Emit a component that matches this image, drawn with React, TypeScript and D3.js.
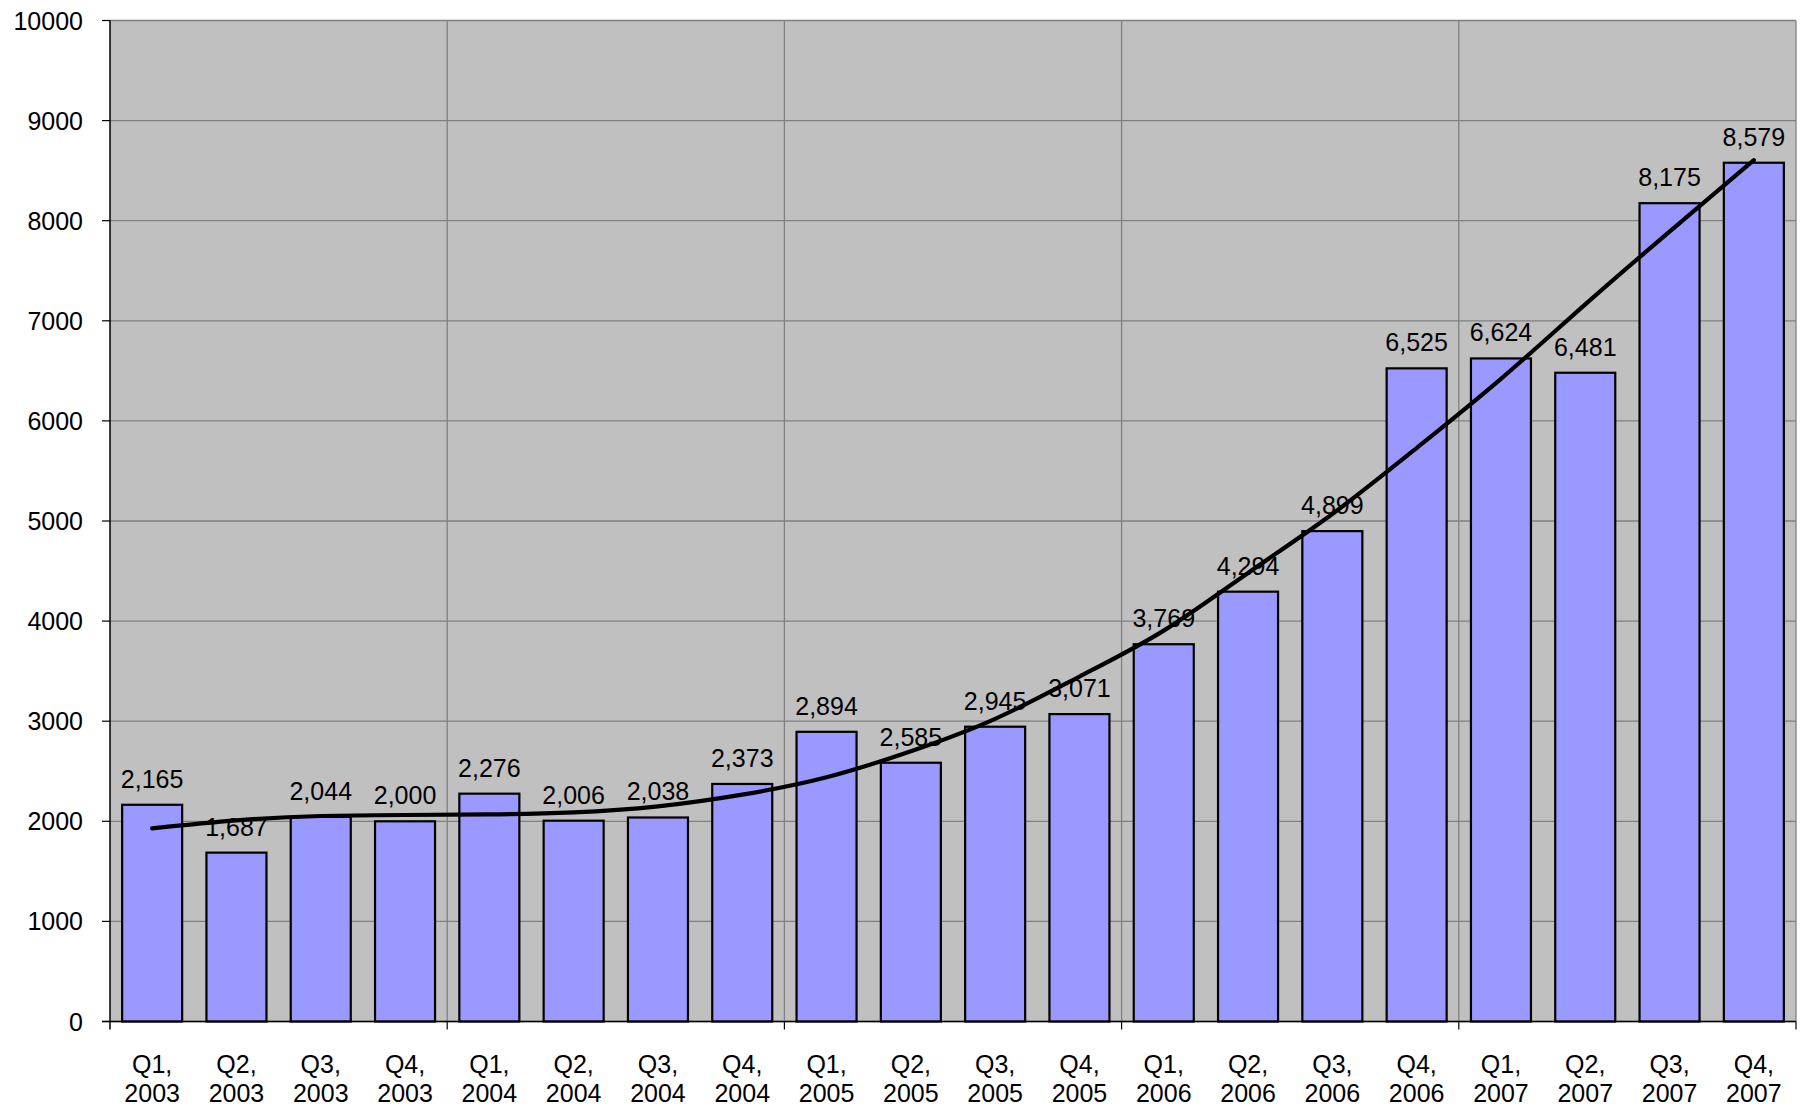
import React from "react";
import * as d3 from "d3";

const quarters = ["Q1", "Q2", "Q3", "Q4", "Q1", "Q2", "Q3", "Q4", "Q1", "Q2", "Q3", "Q4", "Q1", "Q2", "Q3", "Q4", "Q1", "Q2", "Q3", "Q4"];
const years = ["2003", "2003", "2003", "2003", "2004", "2004", "2004", "2004", "2005", "2005", "2005", "2005", "2006", "2006", "2006", "2006", "2007", "2007", "2007", "2007"];
const values = [2165, 1687, 2044, 2000, 2276, 2006, 2038, 2373, 2894, 2585, 2945, 3071, 3769, 4294, 4899, 6525, 6624, 6481, 8175, 8579];
const trendValues = [1930, 2010, 2053, 2063, 2069, 2089, 2149, 2266, 2440, 2700, 3024, 3446, 3905, 4481, 5070, 5729, 6420, 7164, 7891, 8605];
const yTicks = [0, 1000, 2000, 3000, 4000, 5000, 6000, 7000, 8000, 9000, 10000];

const W = 1803;
const H = 1107;
const left = 110;
const right = 1796;
const top = 20.5;
const bottom = 1021.5;
const FONT = "'Liberation Sans', Arial, sans-serif";

export default function App() {
  const ids = values.map((_, i) => String(i));
  const x = d3.scaleBand<string>().domain(ids).range([left, right]).paddingInner(0.288).paddingOuter(0.144);
  const y = d3.scaleLinear().domain([0, 10000]).range([bottom, top]);
  const step = x.step();
  const fmt = d3.format(",");
  const line = d3
    .line<number>()
    .x((_, i) => (x(String(i)) as number) + x.bandwidth() / 2)
    .y((d) => y(d))
    .curve(d3.curveNatural);

  const vGrid = [4, 8, 12, 16].map((i) => left + (x.paddingOuter() * 0 + i) * step);

  return (
    <div style={{ position: "absolute", left: 0, top: 0, width: W, height: H, background: "#fff" }}>
      <svg width={W} height={H} style={{ display: "block" }} fontFamily={FONT}>
        <rect x={left} y={top} width={right - left} height={bottom - top} fill="#c0c0c0" />
        {yTicks.map((t) => (
          <line key={"hg" + t} x1={left} x2={right} y1={y(t)} y2={y(t)} stroke="#808080" strokeWidth={1.3} />
        ))}
        {vGrid.map((gx, i) => (
          <line key={"vg" + i} x1={gx} x2={gx} y1={top} y2={bottom} stroke="#808080" strokeWidth={1.3} />
        ))}
        <line x1={right} x2={right} y1={top} y2={bottom} stroke="#808080" strokeWidth={1.3} />
        {values.map((v, i) => (
          <rect
            key={"b" + i}
            x={x(String(i))}
            y={y(v)}
            width={x.bandwidth()}
            height={y(0) - y(v)}
            fill="#9999ff"
            stroke="#000"
            strokeWidth={2.2}
          />
        ))}
        <line x1={left} x2={left} y1={top} y2={bottom + 8} stroke="#000" strokeWidth={1.5} />
        <line x1={left - 8} x2={right} y1={bottom} y2={bottom} stroke="#000" strokeWidth={1.5} />
        {yTicks.map((t) => (
          <g key={"yt" + t}>
            <line x1={left - 8} x2={left} y1={y(t)} y2={y(t)} stroke="#000" strokeWidth={1.2} />
            <text x={83} y={y(t) + 9} textAnchor="end" fontSize={25} fill="#000">
              {t}
            </text>
          </g>
        ))}
        {vGrid.map((gx, i) => (
          <line key={"xt" + i} x1={gx} x2={gx} y1={bottom} y2={bottom + 8} stroke="#000" strokeWidth={1.2} />
        ))}
        <line x1={right} x2={right} y1={bottom} y2={bottom + 8} stroke="#000" strokeWidth={1.2} />
        {values.map((v, i) => {
          const cx = (x(String(i)) as number) + x.bandwidth() / 2;
          return (
            <g key={"l" + i}>
              <text x={cx} y={y(v) - 17} textAnchor="middle" fontSize={25} fill="#000">
                {fmt(v)}
              </text>
              <text x={cx} y={1073} textAnchor="middle" fontSize={25} fill="#000">
                {quarters[i] + ","}
              </text>
              <text x={cx} y={1102} textAnchor="middle" fontSize={25} fill="#000">
                {years[i]}
              </text>
            </g>
          );
        })}
        <path d={line(trendValues) || ""} fill="none" stroke="#000" strokeWidth={4.2} strokeLinecap="round" />
      </svg>
    </div>
  );
}
